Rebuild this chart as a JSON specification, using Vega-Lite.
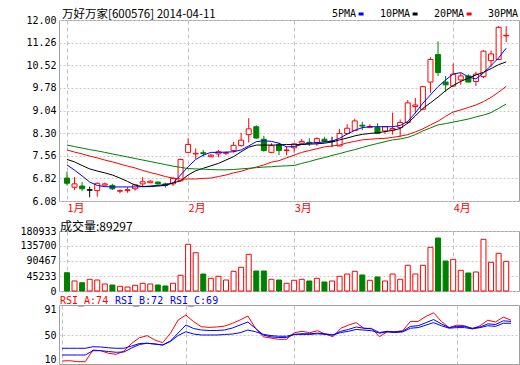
{
"$schema": "https://vega.github.io/schema/vega-lite/v6.json",
"background": "white",
"padding": {"left": 19, "top": 8, "right": 0, "bottom": 0},
"bounds": "flush",
"spacing": 30,
"config": {
  "view": {"stroke": "#a0a0a0", "strokeWidth": 1},
  "axis": {"domain": false, "ticks": false, "labelFont": "DejaVu Sans Mono", "labelFontSize": 10, "labelColor": "#000000", "gridColor": "#c8c8c8", "gridDash": [2, 2], "labelOverlap": false, "labelPadding": 3},
  "axisY": {"labelOverlap": false},
  "axisQuantitative": {"labelOverlap": false},
  "title": {"font": "Noto Sans CJK SC", "fontWeight": "normal", "color": "#000000", "anchor": "start", "frame": "group"},
  "legend": {"title": null, "orient": "none", "direction": "horizontal", "labelFont": "DejaVu Sans Mono", "labelFontSize": 10}
},
"data": {"values": [
{"t":0,"o":6.83,"h":7.04,"l":6.59,"c":6.66,"v":55180,"5PMA":7.26,"10PMA":7.44,"20PMA":7.75,"30PMA":7.91,"RSI_A":7.9,"RSI_B":17.6,"RSI_C":28.5},
{"t":1,"o":6.53,"h":6.86,"l":6.44,"c":6.64,"v":30160,"5PMA":7.09,"10PMA":7.36,"20PMA":7.68,"30PMA":7.86,"RSI_A":8.4,"RSI_B":17.6,"RSI_C":28.5},
{"t":2,"o":6.57,"h":6.70,"l":6.40,"c":6.48,"v":25030,"5PMA":6.90,"10PMA":7.24,"20PMA":7.62,"30PMA":7.81,"RSI_A":6.8,"RSI_B":17.6,"RSI_C":28.5},
{"t":3,"o":6.44,"h":6.55,"l":6.20,"c":6.44,"v":35280,"5PMA":6.70,"10PMA":7.13,"20PMA":7.55,"30PMA":7.76,"RSI_A":6.8,"RSI_B":17.6,"RSI_C":28.5},
{"t":4,"o":6.42,"h":6.68,"l":6.22,"c":6.66,"v":33170,"5PMA":6.59,"10PMA":7.06,"20PMA":7.49,"30PMA":7.72,"RSI_A":25.7,"RSI_B":24.6,"RSI_C":31.0},
{"t":5,"o":6.60,"h":6.68,"l":6.58,"c":6.64,"v":21110,"5PMA":6.55,"10PMA":7.00,"20PMA":7.42,"30PMA":7.67,"RSI_A":24.6,"RSI_B":24.6,"RSI_C":30.6},
{"t":6,"o":6.59,"h":6.64,"l":6.44,"c":6.48,"v":18090,"5PMA":6.54,"10PMA":6.93,"20PMA":7.36,"30PMA":7.62,"RSI_A":20.4,"RSI_B":23.3,"RSI_C":29.3},
{"t":7,"o":6.40,"h":6.46,"l":6.33,"c":6.42,"v":14170,"5PMA":6.54,"10PMA":6.83,"20PMA":7.29,"30PMA":7.57,"RSI_A":18.7,"RSI_B":22.0,"RSI_C":28.5},
{"t":8,"o":6.42,"h":6.53,"l":6.35,"c":6.45,"v":12060,"5PMA":6.54,"10PMA":6.72,"20PMA":7.22,"30PMA":7.52,"RSI_A":24.1,"RSI_B":22.5,"RSI_C":28.5},
{"t":9,"o":6.48,"h":6.64,"l":6.42,"c":6.61,"v":17190,"5PMA":6.54,"10PMA":6.60,"20PMA":7.16,"30PMA":7.47,"RSI_A":36.5,"RSI_B":29.0,"RSI_C":32.2},
{"t":10,"o":6.64,"h":6.86,"l":6.57,"c":6.71,"v":23220,"5PMA":6.55,"10PMA":6.55,"20PMA":7.08,"30PMA":7.42,"RSI_A":45.6,"RSI_B":34.6,"RSI_C":36.2},
{"t":11,"o":6.68,"h":6.77,"l":6.66,"c":6.73,"v":21110,"5PMA":6.57,"10PMA":6.55,"20PMA":7.01,"30PMA":7.37,"RSI_A":48.9,"RSI_B":36.6,"RSI_C":36.6},
{"t":12,"o":6.70,"h":6.71,"l":6.61,"c":6.64,"v":18090,"5PMA":6.59,"10PMA":6.57,"20PMA":6.95,"30PMA":7.32,"RSI_A":41.9,"RSI_B":35.4,"RSI_C":35.4},
{"t":13,"o":6.64,"h":6.68,"l":6.52,"c":6.59,"v":15080,"5PMA":6.62,"10PMA":6.59,"20PMA":6.88,"30PMA":7.27,"RSI_A":37.5,"RSI_B":33.8,"RSI_C":33.8},
{"t":14,"o":6.64,"h":6.84,"l":6.57,"c":6.82,"v":23220,"5PMA":6.67,"10PMA":6.67,"20PMA":6.83,"30PMA":7.22,"RSI_A":52.7,"RSI_B":40.3,"RSI_C":39.5},
{"t":15,"o":6.74,"h":7.46,"l":6.72,"c":7.44,"v":47340,"5PMA":6.93,"10PMA":6.74,"20PMA":6.80,"30PMA":7.18,"RSI_A":74.3,"RSI_B":53.2,"RSI_C":49.2},
{"t":16,"o":7.67,"h":8.13,"l":7.67,"c":7.93,"v":140820,"5PMA":7.20,"10PMA":6.93,"20PMA":6.80,"30PMA":7.14,"RSI_A":82.4,"RSI_B":66.2,"RSI_C":55.3},
{"t":17,"o":7.62,"h":7.80,"l":7.46,"c":7.64,"v":115490,"5PMA":7.44,"10PMA":7.07,"20PMA":6.80,"30PMA":7.13,"RSI_A":71.5,"RSI_B":60.5,"RSI_C":51.6},
{"t":18,"o":7.66,"h":7.75,"l":7.53,"c":7.63,"v":51260,"5PMA":7.58,"10PMA":7.15,"20PMA":6.82,"30PMA":7.12,"RSI_A":63.4,"RSI_B":58.1,"RSI_C":50.0},
{"t":19,"o":7.53,"h":7.62,"l":7.53,"c":7.58,"v":38300,"5PMA":7.67,"10PMA":7.23,"20PMA":6.83,"30PMA":7.11,"RSI_A":62.4,"RSI_B":57.3,"RSI_C":50.0},
{"t":20,"o":7.62,"h":7.75,"l":7.51,"c":7.69,"v":44330,"5PMA":7.67,"10PMA":7.31,"20PMA":6.88,"30PMA":7.10,"RSI_A":63.0,"RSI_B":57.3,"RSI_C":50.0},
{"t":21,"o":7.64,"h":7.69,"l":7.58,"c":7.66,"v":33170,"5PMA":7.68,"10PMA":7.42,"20PMA":6.93,"30PMA":7.10,"RSI_A":64.5,"RSI_B":58.1,"RSI_C":50.8},
{"t":22,"o":7.73,"h":8.01,"l":7.67,"c":7.90,"v":59410,"5PMA":7.69,"10PMA":7.53,"20PMA":7.00,"30PMA":7.11,"RSI_A":68.9,"RSI_B":61.3,"RSI_C":51.6},
{"t":23,"o":7.89,"h":8.31,"l":7.86,"c":8.07,"v":71470,"5PMA":7.75,"10PMA":7.69,"20PMA":7.05,"30PMA":7.13,"RSI_A":74.3,"RSI_B":66.2,"RSI_C":53.7},
{"t":24,"o":8.25,"h":8.79,"l":7.99,"c":8.44,"v":110670,"5PMA":7.88,"10PMA":7.84,"20PMA":7.13,"30PMA":7.15,"RSI_A":80.8,"RSI_B":71.0,"RSI_C":58.1},
{"t":25,"o":8.51,"h":8.56,"l":8.12,"c":8.14,"v":60310,"5PMA":8.02,"10PMA":7.91,"20PMA":7.19,"30PMA":7.17,"RSI_A":60.8,"RSI_B":60.8,"RSI_C":55.3},
{"t":26,"o":8.10,"h":8.21,"l":7.69,"c":7.73,"v":60310,"5PMA":8.05,"10PMA":7.91,"20PMA":7.26,"30PMA":7.19,"RSI_A":47.2,"RSI_B":50.0,"RSI_C":51.0},
{"t":27,"o":7.67,"h":7.97,"l":7.64,"c":7.89,"v":35280,"5PMA":8.03,"10PMA":7.91,"20PMA":7.35,"30PMA":7.20,"RSI_A":45.0,"RSI_B":47.0,"RSI_C":49.0},
{"t":28,"o":7.93,"h":7.99,"l":7.58,"c":7.73,"v":33170,"5PMA":7.97,"10PMA":7.91,"20PMA":7.40,"30PMA":7.22,"RSI_A":43.0,"RSI_B":46.0,"RSI_C":48.0},
{"t":29,"o":7.73,"h":7.86,"l":7.58,"c":7.75,"v":23220,"5PMA":7.85,"10PMA":7.93,"20PMA":7.49,"30PMA":7.23,"RSI_A":43.0,"RSI_B":46.0,"RSI_C":48.0},
{"t":30,"o":7.82,"h":7.96,"l":7.66,"c":7.95,"v":32270,"5PMA":7.86,"10PMA":7.92,"20PMA":7.58,"30PMA":7.24,"RSI_A":53.7,"RSI_B":51.0,"RSI_C":51.0},
{"t":31,"o":7.97,"h":8.11,"l":7.94,"c":8.03,"v":35280,"5PMA":7.93,"10PMA":7.93,"20PMA":7.67,"30PMA":7.31,"RSI_A":56.0,"RSI_B":52.0,"RSI_C":51.0},
{"t":32,"o":8.00,"h":8.13,"l":7.88,"c":7.98,"v":30160,"5PMA":7.97,"10PMA":7.94,"20PMA":7.73,"30PMA":7.37,"RSI_A":53.7,"RSI_B":52.0,"RSI_C":51.0},
{"t":33,"o":7.99,"h":8.16,"l":7.88,"c":8.12,"v":38300,"5PMA":7.99,"10PMA":7.95,"20PMA":7.79,"30PMA":7.44,"RSI_A":57.0,"RSI_B":53.0,"RSI_C":52.0},
{"t":34,"o":8.10,"h":8.18,"l":7.99,"c":8.03,"v":27140,"5PMA":8.01,"10PMA":7.97,"20PMA":7.85,"30PMA":7.50,"RSI_A":51.5,"RSI_B":52.0,"RSI_C":51.0},
{"t":35,"o":8.03,"h":8.18,"l":7.84,"c":8.03,"v":30160,"5PMA":8.04,"10PMA":8.01,"20PMA":7.88,"30PMA":7.57,"RSI_A":47.2,"RSI_B":50.0,"RSI_C":50.0},
{"t":36,"o":7.88,"h":8.44,"l":7.88,"c":8.29,"v":44330,"5PMA":8.13,"10PMA":8.08,"20PMA":7.91,"30PMA":7.63,"RSI_A":60.8,"RSI_B":56.0,"RSI_C":54.0},
{"t":37,"o":8.29,"h":8.59,"l":8.26,"c":8.46,"v":51260,"5PMA":8.27,"10PMA":8.14,"20PMA":7.98,"30PMA":7.70,"RSI_A":66.2,"RSI_B":59.0,"RSI_C":56.0},
{"t":38,"o":8.39,"h":8.77,"l":8.37,"c":8.70,"v":59410,"5PMA":8.39,"10PMA":8.21,"20PMA":8.03,"30PMA":7.76,"RSI_A":70.0,"RSI_B":63.0,"RSI_C":59.0},
{"t":39,"o":8.56,"h":8.67,"l":8.40,"c":8.53,"v":48250,"5PMA":8.48,"10PMA":8.26,"20PMA":8.08,"30PMA":7.83,"RSI_A":60.8,"RSI_B":61.0,"RSI_C":58.0},
{"t":40,"o":8.49,"h":8.59,"l":8.46,"c":8.52,"v":32270,"5PMA":8.51,"10PMA":8.29,"20PMA":8.10,"30PMA":7.90,"RSI_A":60.8,"RSI_B":60.0,"RSI_C":57.0},
{"t":41,"o":8.49,"h":8.62,"l":8.29,"c":8.29,"v":42220,"5PMA":8.51,"10PMA":8.31,"20PMA":8.12,"30PMA":7.96,"RSI_A":47.2,"RSI_B":54.0,"RSI_C":53.0},
{"t":42,"o":8.37,"h":8.51,"l":8.28,"c":8.51,"v":30160,"5PMA":8.51,"10PMA":8.35,"20PMA":8.13,"30PMA":8.02,"RSI_A":55.3,"RSI_B":56.0,"RSI_C":55.0},
{"t":43,"o":8.40,"h":8.97,"l":8.25,"c":8.45,"v":51260,"5PMA":8.51,"10PMA":8.39,"20PMA":8.16,"30PMA":8.08,"RSI_A":55.3,"RSI_B":55.0,"RSI_C":54.0},
{"t":44,"o":8.48,"h":8.75,"l":8.18,"c":8.65,"v":35280,"5PMA":8.55,"10PMA":8.45,"20PMA":8.20,"30PMA":8.11,"RSI_A":57.0,"RSI_B":56.0,"RSI_C":55.0},
{"t":45,"o":8.65,"h":9.38,"l":8.60,"c":9.29,"v":77500,"5PMA":8.68,"10PMA":8.63,"20PMA":8.25,"30PMA":8.16,"RSI_A":72.0,"RSI_B":64.0,"RSI_C":61.0},
{"t":46,"o":9.17,"h":9.45,"l":8.95,"c":9.22,"v":51260,"5PMA":8.96,"10PMA":8.86,"20PMA":8.34,"30PMA":8.25,"RSI_A":72.0,"RSI_B":65.0,"RSI_C":62.0},
{"t":47,"o":9.08,"h":9.85,"l":9.05,"c":9.82,"v":77500,"5PMA":9.28,"10PMA":9.11,"20PMA":8.44,"30PMA":8.37,"RSI_A":80.0,"RSI_B":70.0,"RSI_C":66.0},
{"t":48,"o":9.97,"h":10.78,"l":9.62,"c":10.71,"v":131780,"5PMA":9.55,"10PMA":9.29,"20PMA":8.57,"30PMA":8.47,"RSI_A":86.0,"RSI_B":75.0,"RSI_C":70.0},
{"t":49,"o":10.87,"h":11.30,"l":10.17,"c":10.28,"v":159820,"5PMA":9.82,"10PMA":9.48,"20PMA":8.69,"30PMA":8.57,"RSI_A":72.0,"RSI_B":68.0,"RSI_C":65.0},
{"t":50,"o":9.97,"h":10.17,"l":9.65,"c":9.88,"v":90470,"5PMA":10.04,"10PMA":9.69,"20PMA":8.85,"30PMA":8.61,"RSI_A":62.0,"RSI_B":62.0,"RSI_C":61.0},
{"t":51,"o":9.84,"h":10.58,"l":9.82,"c":10.23,"v":95590,"5PMA":10.23,"10PMA":9.86,"20PMA":8.99,"30PMA":8.66,"RSI_A":66.0,"RSI_B":64.0,"RSI_C":62.0},
{"t":52,"o":10.04,"h":10.26,"l":9.88,"c":10.17,"v":62420,"5PMA":10.28,"10PMA":9.99,"20PMA":9.06,"30PMA":8.71,"RSI_A":65.0,"RSI_B":64.0,"RSI_C":62.0},
{"t":53,"o":10.17,"h":10.23,"l":9.97,"c":9.97,"v":54280,"5PMA":10.14,"10PMA":10.10,"20PMA":9.14,"30PMA":8.76,"RSI_A":60.0,"RSI_B":61.0,"RSI_C":60.0},
{"t":54,"o":9.99,"h":10.31,"l":9.84,"c":10.23,"v":57300,"5PMA":10.07,"10PMA":10.20,"20PMA":9.22,"30PMA":8.83,"RSI_A":65.0,"RSI_B":63.0,"RSI_C":62.0},
{"t":55,"o":10.15,"h":11.01,"l":10.10,"c":10.98,"v":155900,"5PMA":10.27,"10PMA":10.29,"20PMA":9.33,"30PMA":8.89,"RSI_A":74.0,"RSI_B":68.0,"RSI_C":65.0},
{"t":56,"o":10.67,"h":11.00,"l":10.47,"c":10.89,"v":86550,"5PMA":10.51,"10PMA":10.41,"20PMA":9.47,"30PMA":8.97,"RSI_A":71.0,"RSI_B":67.0,"RSI_C":64.0},
{"t":57,"o":10.71,"h":11.80,"l":10.69,"c":11.76,"v":113690,"5PMA":10.76,"10PMA":10.54,"20PMA":9.64,"30PMA":9.11,"RSI_A":79.0,"RSI_B":73.0,"RSI_C":69.0},
{"t":58,"o":11.48,"h":11.80,"l":11.28,"c":11.50,"v":89297,"5PMA":11.08,"10PMA":10.63,"20PMA":9.83,"30PMA":9.25,"RSI_A":74.0,"RSI_B":72.0,"RSI_C":69.0}
]},
"vconcat": [
{
  "width": 460, "height": 181,
  "title": {"text": "万好万家[600576] 2014-04-11", "fontSize": 11.5, "offset": -11.5, "dx": 3},
  "encoding": {
    "x": {"field": "t", "type": "quantitative", "scale": {"domain": [-0.39, 59.03], "nice": false, "zero": false},
      "axis": {"title": null, "values": [0, 16, 30, 51], "labelExpr": "['1月','2月','3月','4月'][indexof([0,16,30,51], datum.value)]", "labelColor": "#ff0000", "labelFont": "Noto Sans CJK SC", "labelFontSize": 11, "labelAlign": "left", "labelFlush": false, "labelOverlap": false, "labelPadding": 1, "labelDx": -1, "gridDash": [4, 3], "gridColor": "#c0c0c0"}}
  },
  "layer": [
    {"mark": {"type": "rule", "strokeWidth": 1},
     "encoding": {
       "y": {"field": "l", "type": "quantitative", "scale": {"domain": [6.08, 12.0], "nice": false, "zero": false},
         "axis": {"title": null, "values": [6.08, 6.82, 7.56, 8.30, 9.04, 9.78, 10.52, 11.26, 12.0], "format": ".2f", "labelOverlap": false, "labelSeparation": 0}},
       "y2": {"field": "h"},
       "color": {"condition": [{"test": "datum.c > datum.o", "value": "#ff0000"}, {"test": "datum.c < datum.o", "value": "#008000"}], "value": "#000000"}
     }},
    {"mark": {"type": "bar", "width": 5, "strokeWidth": 1},
     "encoding": {
       "y": {"field": "o", "type": "quantitative", "axis": {"title": null, "values": [6.08, 6.82, 7.56, 8.30, 9.04, 9.78, 10.52, 11.26, 12.0], "format": ".2f", "labelOverlap": false, "labelSeparation": 0}},
       "y2": {"field": "c"},
       "fill": {"condition": [{"test": "datum.c > datum.o", "value": "#ffffff"}, {"test": "datum.c < datum.o", "value": "#008000"}], "value": "#000000"},
       "stroke": {"condition": [{"test": "datum.c > datum.o", "value": "#ff0000"}, {"test": "datum.c < datum.o", "value": "#008000"}], "value": "#000000"}
     }},
    {"transform": [{"filter": "datum.o == datum.c"}],
     "mark": {"type": "tick", "orient": "horizontal", "size": 6, "thickness": 1, "color": "#000000"},
     "encoding": {"y": {"field": "c", "type": "quantitative", "axis": {"title": null, "values": [6.08, 6.82, 7.56, 8.30, 9.04, 9.78, 10.52, 11.26, 12.0], "format": ".2f", "labelOverlap": false, "labelSeparation": 0}}}},
    {"transform": [{"fold": ["5PMA", "10PMA", "20PMA", "30PMA"], "as": ["k", "val"]}],
     "mark": {"type": "line", "strokeWidth": 1},
     "encoding": {
       "y": {"field": "val", "type": "quantitative", "axis": {"title": null, "values": [6.08, 6.82, 7.56, 8.30, 9.04, 9.78, 10.52, 11.26, 12.0], "format": ".2f", "labelOverlap": false, "labelSeparation": 0}},
       "color": {"field": "k", "type": "nominal",
         "scale": {"domain": ["5PMA", "10PMA", "20PMA", "30PMA"], "range": ["#0000ff", "#000000", "#ff0000", "#008000"]},
         "legend": {"legendX": 273, "legendY": -11, "columnPadding": 10, "labelColor": "#000000",
           "symbolType": "M-1,0H1", "symbolSize": 25, "symbolStrokeWidth": 3,
           "encode": {
             "labels": {"update": {"x": {"value": 0}}},
             "symbols": {"update": {"x": {"signal": "length(datum.label) * 6.02 + 5"}}}
           }}}
     }}
  ]
},
{
  "spacing": 14,
  "bounds": "flush",
  "vconcat": [
    {
      "width": 460, "height": 60,
      "title": {"text": "成交量:89297", "fontSize": 12, "offset": -8, "dx": 1},
      "mark": {"type": "bar", "width": 5, "strokeWidth": 1},
      "encoding": {
        "x": {"field": "t", "type": "quantitative", "scale": {"domain": [-0.39, 59.03], "nice": false, "zero": false},
          "axis": {"title": null, "values": [0, 16, 30, 51], "labels": false, "gridDash": [4, 3], "gridColor": "#c0c0c0"}},
        "y": {"field": "v", "type": "quantitative", "scale": {"domain": [0, 180933], "nice": false},
          "axis": {"title": null, "values": [0, 45233, 90467, 135700, 180933], "format": "d", "labelOverlap": false}},
        "fill": {"condition": {"test": "datum.c >= datum.o", "value": "#ffffff"}, "value": "#008000"},
        "stroke": {"condition": {"test": "datum.c >= datum.o", "value": "#ff0000"}, "value": "#008000"}
      }
    },
    {
      "width": 460, "height": 59,
      "transform": [{"fold": ["RSI_A", "RSI_B", "RSI_C"], "as": ["k", "val"]}],
      "mark": {"type": "line", "strokeWidth": 1},
      "encoding": {
        "x": {"field": "t", "type": "quantitative", "scale": {"domain": [-0.39, 59.03], "nice": false, "zero": false},
          "axis": {"title": null, "values": [0, 16, 30, 51], "labels": false, "gridDash": [4, 3], "gridColor": "#c0c0c0"}},
        "y": {"field": "val", "type": "quantitative", "scale": {"domain": [3.04, 98.6], "nice": false, "zero": false},
          "axis": {"title": null, "values": [10, 50, 91], "labelOverlap": false, "gridOpacity": {"condition": {"test": "datum.value == 50", "value": 1}, "value": 0}}},
        "color": {"field": "k", "type": "nominal",
          "scale": {"domain": ["RSI_A", "RSI_B", "RSI_C"], "range": ["#ff0000", "#0000ff", "#0000ff"]},
          "legend": {"legendX": 1, "legendY": 65, "columnPadding": 6, "symbolSize": 0, "symbolOpacity": 0,
            "labelExpr": "datum.label == 'RSI_A' ? 'RSI_A:74' : datum.label == 'RSI_B' ? 'RSI_B:72' : 'RSI_C:69'",
            "encode": {
              "labels": {"update": {"x": {"value": 0}, "fill": {"signal": "datum.value == 'RSI_A' ? '#ff0000' : '#0000ff'"}}},
              "symbols": {"update": {"x": {"value": 0}}}
            }}}
      }
    }
  ]
}
],
"resolve": {"scale": {"color": "independent"}, "legend": {"color": "independent"}}
}
